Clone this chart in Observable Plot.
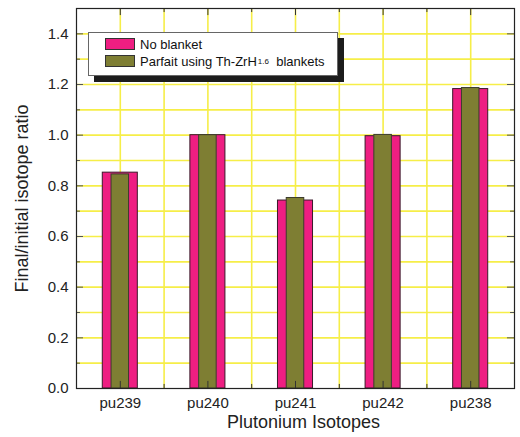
<!DOCTYPE html>
<html>
<head>
<meta charset="utf-8">
<script src="https://cdn.jsdelivr.net/npm/d3@7"></script>
<script src="https://cdn.jsdelivr.net/npm/@observablehq/plot@0.6"></script>
<style>
  html, body { margin: 0; padding: 0; background: #fff; }
  #wrap { position: relative; width: 520px; height: 437px; font-family: "Liberation Sans", Arial, sans-serif; }
  #legend { position: absolute; left: 88px; top: 32px; width: 248px; height: 42px; background: #fff;
            border: 1px solid #666; box-shadow: 6px 6px 0 #1c1c1c; font-size: 13px; color: #111; }
  .row { position: absolute; left: 16px; height: 12px; display: flex; align-items: center; white-space: nowrap; }
  .sw { width: 28px; height: 10px; border: 1px solid #333; margin-right: 5px; }
  sub { font-size: 8px; vertical-align: -5px; margin-left: 1px; }
</style>
</head>
<body>
<div id="wrap">
  <div id="chart"></div>
  <div id="legend">
    <div class="row" style="top:5px"><div class="sw" style="background:#ee1e82"></div>No blanket</div>
    <div class="row" style="top:22px"><div class="sw" style="background:#7e7e33"></div>Parfait using Th-ZrH<sub>1.6</sub>&nbsp;&nbsp;blankets</div>
  </div>
</div>
<script>
const categories = ["pu239", "pu240", "pu241", "pu242", "pu238"];
const noBlanket = [0.852, 1.0, 0.742, 0.996, 1.182];
const parfait = [0.845, 1.0, 0.752, 1.001, 1.186];
const yTicks = [0, 0.2, 0.4, 0.6, 0.8, 1.0, 1.2, 1.4];
const yMinor = [0.1, 0.3, 0.5, 0.7, 0.9, 1.1, 1.3];

const idx = categories.map((c, i) => i + 1);
const mids = idx.slice(0, -1).map(i => i + 0.5);
const rows = categories.map((c, i) => ({ i: i + 1, cat: c, a: noBlanket[i], b: parfait[i] }));
const yGrid = [...yTicks.slice(1), ...yMinor];
const xGrid = [...idx, ...mids];
const yellow = "#f6ee48";

const chart = Plot.plot({
  width: 520,
  height: 437,
  marginLeft: 76,
  marginRight: 6,
  marginTop: 8,
  marginBottom: 49,
  style: { fontFamily: "'Liberation Sans', Arial, sans-serif", background: "#fff" },
  x: { domain: [0.5, 5.5] },
  y: { domain: [0, 1.5] },
  marks: [
    Plot.ruleY(yGrid, { y: d => d, stroke: yellow, strokeWidth: 1.6 }),
    Plot.ruleX(xGrid, { x: d => d, stroke: yellow, strokeWidth: 1.6 }),
    Plot.rectY(rows, { x1: d => d.i - 0.2, x2: d => d.i + 0.2, y1: 0, y2: "a", fill: "#ee1e82", stroke: "#3a1a2a", strokeWidth: 1 }),
    Plot.rectY(rows, { x1: d => d.i - 0.1, x2: d => d.i + 0.1, y1: 0, y2: "b", fill: "#7e7e33", stroke: "#3c3c2c", strokeWidth: 1 }),
    // inward ticks
    Plot.ruleX(idx, { x: d => d, y1: 0, y2: 0.028, stroke: "#333" }),
    Plot.ruleX(mids, { x: d => d, y1: 0, y2: 0.016, stroke: "#333" }),
    Plot.ruleX(idx, { x: d => d, y1: 1.5, y2: 1.472, stroke: "#333" }),
    Plot.ruleX(mids, { x: d => d, y1: 1.5, y2: 1.484, stroke: "#333" }),
    Plot.ruleY(yTicks, { y: d => d, x1: 0.5, x2: 0.58, stroke: "#555" }),
    Plot.ruleY(yMinor, { y: d => d, x1: 0.5, x2: 0.545, stroke: "#555" }),
    Plot.ruleY(yTicks, { y: d => d, x1: 5.5, x2: 5.42, stroke: "#555" }),
    Plot.ruleY(yMinor, { y: d => d, x1: 5.5, x2: 5.455, stroke: "#555" }),
    Plot.frame({ stroke: "#222", strokeWidth: 1.2 }),
    Plot.axisY({ ticks: yTicks, tickFormat: d3.format(".1f"), tickSize: 0, tickPadding: 8, fontSize: 15, label: null, fill: "#222" }),
    Plot.axisX({ ticks: idx, tickFormat: i => categories[i - 1], tickSize: 0, tickPadding: 9, fontSize: 15, label: null, fill: "#222" }),
    Plot.text(["Final/initial isotope ratio"], { frameAnchor: "left", textAnchor: "middle", rotate: -90, dx: -54, fontSize: 18, fill: "#222" }),
    Plot.text(["Plutonium Isotopes"], { frameAnchor: "bottom", dy: 39, dx: 8, fontSize: 18, fill: "#222" })
  ]
});
document.getElementById("chart").appendChild(chart);
</script>
</body>
</html>
